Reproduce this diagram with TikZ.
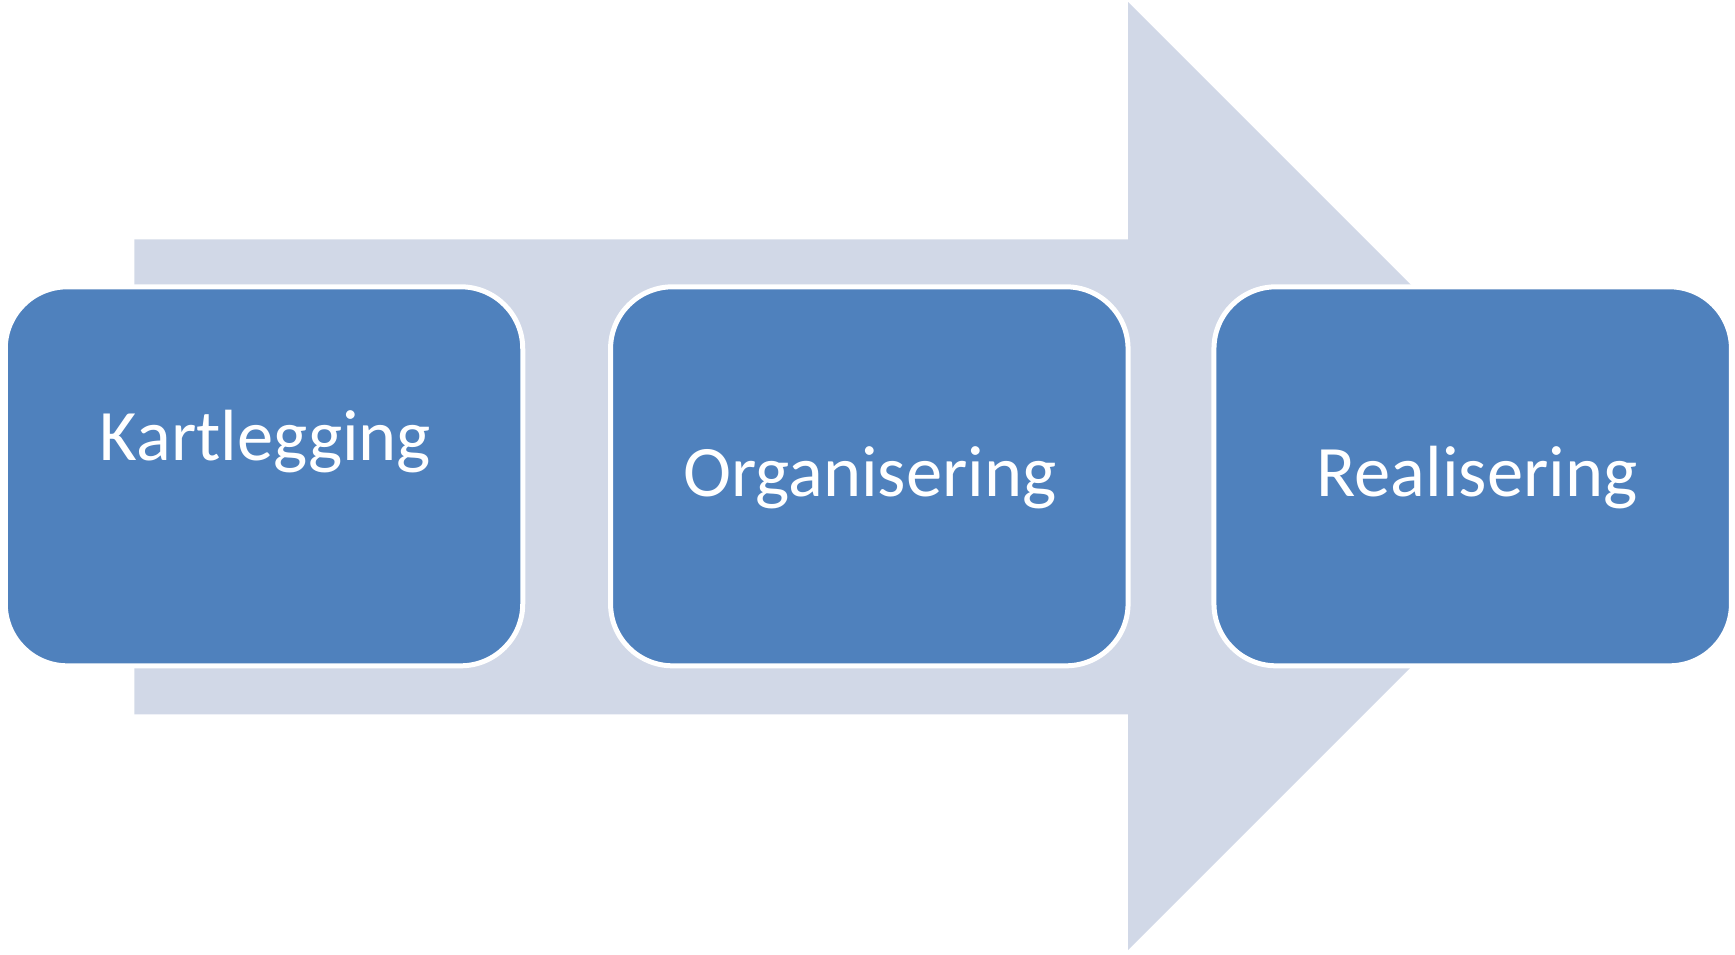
\documentclass[tikz,border=0pt]{standalone}
\usepackage{fontspec}
\setmainfont{Carlito}
\definecolor{boxblue}{HTML}{4F81BD}
\definecolor{arrowgray}{HTML}{D1D8E7}
\tikzset{
  stepbox/.style={rectangle, rounded corners=62pt, draw=white, line width=5pt,
    fill=boxblue, inner sep=0pt, minimum width=517.5pt, minimum height=379pt},
  steptext/.style={text=white, font=\fontsize{72.5}{87}\selectfont, anchor=base, inner sep=0pt}
}
\begin{document}
\begin{tikzpicture}[x=1pt,y=-1pt]
\useasboundingbox (0,0) rectangle (1735,954);
\fill[arrowgray] (134.3,239.3) -- (1128,239.3) -- (1128,2) -- (1602,476) -- (1128,950) -- (1128,714.3) -- (134.3,714.3) -- cycle;
\node[stepbox] (b1) at (264,476.3) {};
\node[stepbox] (b2) at (869.3,476.3) {};
\node[stepbox] (b3) at (1472.7,476.3) {};
\node[steptext] (t1) at (265.5,460) {Kartlegging};
\node[steptext] (t2) at (870,496.8) {Organisering};
\node[steptext] (t3) at (1477,496.8) {Realisering};
\end{tikzpicture}
\end{document}
